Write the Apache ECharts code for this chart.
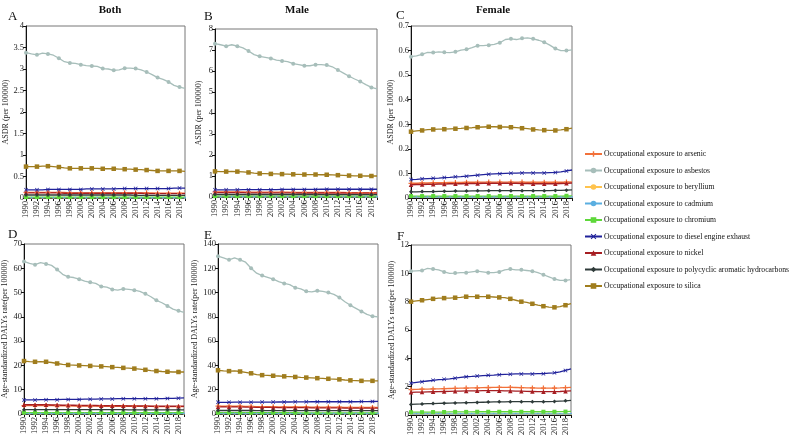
<!DOCTYPE html>
<html><head><meta charset="utf-8">
<script src="https://cdn.jsdelivr.net/npm/echarts@6/dist/echarts.min.js"></script>
<style>html,body{margin:0;padding:0;background:#fff}#c{width:790px;height:438px}</style>
</head><body><div id="c"></div>
<script>
var years = ['1990','1991','1992','1993','1994','1995','1996','1997','1998','1999','2000','2001','2002','2003','2004','2005','2006','2007','2008','2009','2010','2011','2012','2013','2014','2015','2016','2017','2018','2019'];
var seriesNames = ['Occupational exposure to arsenic','Occupational exposure to asbestos','Occupational exposure to beryllium','Occupational exposure to cadmium','Occupational exposure to chromium','Occupational exposure to diesel engine exhaust','Occupational exposure to nickel','Occupational exposure to polycyclic aromatic hydrocarbons','Occupational exposure to silica'];
var panelTitles = ['Both','Male','Female'];
var panelLetters = ['A','B','C','D','E','F'];
var yNames = ['ASDR (per 100000)','ASDR (per 100000)','ASDR (per 100000)','Age-standardized DALYs rate(per 100000)','Age-standardized DALYs rate(per 100000)','Age-standardized DALYs rate(per 100000)'];
var yMax = [4,8,0.7,70,140,12];
var yStep = [0.5,1,0.1,10,20,2];

// Panel A: ASDR, both sexes
var A_arsenic   = [0.13,0.13,0.13,0.13,0.13,0.13,0.13,0.13,0.12,0.12,0.12,0.12,0.12,0.12,0.12,0.12,0.12,0.12,0.12,0.12,0.12,0.12,0.12,0.12,0.11,0.11,0.11,0.11,0.11,0.11];
var A_asbestos  = [3.38,3.35,3.33,3.37,3.35,3.32,3.25,3.17,3.14,3.13,3.10,3.08,3.07,3.06,3.01,3.00,2.97,2.98,3.02,3.02,3.01,2.98,2.93,2.87,2.80,2.76,2.70,2.62,2.58,2.55];
var A_beryllium = [0.004,0.004,0.004,0.004,0.004,0.004,0.004,0.004,0.004,0.004,0.004,0.004,0.004,0.004,0.004,0.004,0.004,0.004,0.004,0.004,0.004,0.004,0.004,0.004,0.004,0.004,0.004,0.004,0.004,0.004];
var A_cadmium   = [0.007,0.007,0.007,0.007,0.007,0.007,0.007,0.007,0.007,0.007,0.007,0.007,0.007,0.007,0.007,0.007,0.007,0.007,0.007,0.006,0.006,0.006,0.006,0.006,0.006,0.006,0.006,0.006,0.006,0.006];
var A_chromium  = [0.02,0.02,0.02,0.02,0.02,0.02,0.02,0.02,0.02,0.02,0.02,0.02,0.02,0.02,0.02,0.02,0.02,0.02,0.02,0.02,0.02,0.02,0.02,0.02,0.02,0.02,0.02,0.02,0.02,0.02];
var A_diesel    = [0.19,0.19,0.19,0.19,0.20,0.20,0.20,0.20,0.20,0.20,0.20,0.21,0.21,0.21,0.21,0.21,0.21,0.22,0.22,0.22,0.22,0.22,0.22,0.22,0.22,0.22,0.22,0.23,0.23,0.23];
var A_nickel    = [0.12,0.12,0.12,0.12,0.12,0.12,0.12,0.11,0.11,0.11,0.11,0.11,0.11,0.11,0.11,0.11,0.11,0.11,0.11,0.11,0.11,0.11,0.10,0.10,0.10,0.10,0.10,0.10,0.10,0.10];
var A_pah       = [0.07,0.07,0.07,0.07,0.07,0.07,0.07,0.07,0.07,0.07,0.07,0.07,0.07,0.07,0.07,0.07,0.07,0.07,0.07,0.07,0.06,0.06,0.06,0.06,0.06,0.06,0.06,0.06,0.06,0.06];
var A_silica    = [0.73,0.73,0.73,0.74,0.74,0.73,0.72,0.70,0.69,0.69,0.69,0.69,0.69,0.69,0.68,0.68,0.68,0.67,0.67,0.67,0.66,0.66,0.65,0.64,0.63,0.63,0.63,0.63,0.63,0.62];

// Panel B: ASDR, male
var B_arsenic   = [0.24,0.24,0.24,0.24,0.24,0.24,0.23,0.23,0.23,0.23,0.23,0.23,0.23,0.23,0.22,0.22,0.22,0.22,0.22,0.22,0.22,0.22,0.22,0.22,0.21,0.21,0.21,0.21,0.21,0.21];
var B_asbestos  = [7.30,7.25,7.18,7.25,7.18,7.10,6.95,6.78,6.70,6.65,6.60,6.52,6.48,6.45,6.35,6.30,6.25,6.25,6.30,6.30,6.28,6.20,6.05,5.90,5.75,5.62,5.50,5.35,5.22,5.15];
var B_beryllium = [0.007,0.007,0.007,0.007,0.007,0.007,0.007,0.007,0.007,0.007,0.007,0.007,0.007,0.007,0.007,0.007,0.007,0.007,0.007,0.007,0.007,0.007,0.007,0.007,0.007,0.007,0.007,0.007,0.007,0.007];
var B_cadmium   = [0.012,0.012,0.012,0.012,0.012,0.012,0.012,0.012,0.012,0.012,0.011,0.011,0.011,0.011,0.011,0.011,0.011,0.011,0.011,0.011,0.011,0.011,0.011,0.011,0.011,0.011,0.011,0.011,0.011,0.011];
var B_chromium  = [0.04,0.04,0.04,0.04,0.04,0.04,0.04,0.04,0.04,0.04,0.04,0.04,0.04,0.04,0.04,0.04,0.04,0.04,0.04,0.04,0.04,0.04,0.04,0.04,0.04,0.04,0.04,0.04,0.04,0.04];
var B_diesel    = [0.34,0.34,0.34,0.34,0.34,0.35,0.35,0.35,0.35,0.35,0.35,0.35,0.36,0.36,0.36,0.36,0.36,0.36,0.36,0.37,0.37,0.37,0.37,0.37,0.37,0.37,0.37,0.37,0.37,0.37];
var B_nickel    = [0.21,0.21,0.21,0.21,0.21,0.21,0.20,0.20,0.20,0.20,0.20,0.20,0.20,0.20,0.20,0.19,0.19,0.19,0.19,0.19,0.19,0.19,0.19,0.19,0.18,0.18,0.18,0.18,0.18,0.18];
var B_pah       = [0.12,0.12,0.12,0.12,0.12,0.12,0.12,0.12,0.12,0.12,0.12,0.12,0.12,0.12,0.12,0.12,0.12,0.12,0.12,0.11,0.11,0.11,0.11,0.11,0.11,0.11,0.11,0.11,0.11,0.11];
var B_silica    = [1.22,1.21,1.21,1.22,1.21,1.20,1.17,1.14,1.12,1.11,1.10,1.10,1.09,1.09,1.08,1.08,1.07,1.07,1.07,1.06,1.06,1.05,1.04,1.03,1.02,1.01,1.01,1.00,1.00,1.00];

// Panel C: ASDR, female
var C_arsenic   = [0.060,0.060,0.061,0.061,0.062,0.062,0.062,0.063,0.063,0.063,0.064,0.064,0.064,0.065,0.065,0.065,0.065,0.065,0.065,0.065,0.065,0.064,0.064,0.064,0.064,0.064,0.064,0.064,0.065,0.066];
var C_asbestos  = [0.575,0.578,0.585,0.593,0.592,0.595,0.593,0.592,0.595,0.602,0.605,0.612,0.620,0.620,0.622,0.625,0.632,0.645,0.648,0.645,0.650,0.652,0.648,0.642,0.634,0.622,0.608,0.600,0.600,0.603];
var C_beryllium = [0.003,0.003,0.003,0.003,0.003,0.003,0.003,0.003,0.003,0.003,0.003,0.003,0.003,0.003,0.003,0.003,0.003,0.003,0.003,0.003,0.003,0.003,0.003,0.003,0.003,0.003,0.003,0.003,0.003,0.003];
var C_cadmium   = [0.004,0.004,0.004,0.004,0.004,0.004,0.004,0.004,0.004,0.004,0.004,0.004,0.004,0.004,0.004,0.004,0.004,0.004,0.004,0.004,0.004,0.004,0.004,0.004,0.004,0.004,0.004,0.004,0.004,0.004];
var C_chromium  = [0.008,0.008,0.008,0.008,0.008,0.008,0.008,0.008,0.008,0.008,0.008,0.008,0.008,0.008,0.008,0.008,0.008,0.008,0.008,0.008,0.008,0.008,0.008,0.008,0.008,0.008,0.008,0.008,0.009,0.009];
var C_diesel    = [0.075,0.076,0.078,0.079,0.080,0.081,0.083,0.084,0.086,0.087,0.089,0.091,0.093,0.095,0.097,0.098,0.099,0.100,0.101,0.101,0.102,0.102,0.102,0.102,0.102,0.103,0.104,0.106,0.110,0.114];
var C_nickel    = [0.054,0.055,0.055,0.056,0.056,0.057,0.057,0.058,0.058,0.058,0.059,0.059,0.059,0.060,0.060,0.060,0.060,0.060,0.060,0.060,0.059,0.059,0.058,0.058,0.058,0.058,0.058,0.059,0.060,0.061];
var C_pah       = [0.025,0.025,0.026,0.026,0.026,0.027,0.027,0.027,0.028,0.028,0.028,0.029,0.029,0.029,0.030,0.030,0.030,0.030,0.030,0.030,0.030,0.030,0.030,0.030,0.030,0.030,0.031,0.031,0.032,0.033];
var C_silica    = [0.270,0.273,0.275,0.278,0.279,0.280,0.280,0.281,0.282,0.283,0.285,0.286,0.288,0.289,0.290,0.290,0.289,0.289,0.288,0.286,0.284,0.282,0.279,0.277,0.276,0.275,0.275,0.277,0.280,0.284];

// Panel D: DALYs, both sexes
var D_arsenic   = [3.5,3.5,3.5,3.5,3.5,3.5,3.4,3.4,3.4,3.3,3.3,3.3,3.3,3.3,3.2,3.2,3.2,3.2,3.2,3.2,3.2,3.1,3.1,3.1,3.0,3.0,3.0,3.0,3.0,3.0];
var D_asbestos  = [62.8,62.0,61.5,62.3,61.8,61.2,59.5,57.5,56.5,56.2,55.5,54.7,54.2,53.8,52.5,52.2,51.3,51.0,51.5,51.3,51.0,50.5,49.5,48.3,46.8,45.8,44.5,43.2,42.5,41.8];
var D_beryllium = [0.15,0.15,0.15,0.15,0.15,0.15,0.15,0.15,0.15,0.15,0.15,0.15,0.15,0.15,0.15,0.15,0.15,0.15,0.15,0.15,0.15,0.15,0.15,0.15,0.15,0.15,0.15,0.15,0.15,0.15];
var D_cadmium   = [0.2,0.2,0.2,0.2,0.2,0.2,0.2,0.2,0.2,0.2,0.2,0.2,0.2,0.2,0.2,0.2,0.2,0.2,0.2,0.2,0.2,0.2,0.2,0.2,0.2,0.2,0.2,0.2,0.2,0.2];
var D_chromium  = [0.6,0.6,0.6,0.6,0.6,0.6,0.6,0.6,0.6,0.6,0.6,0.6,0.6,0.6,0.6,0.6,0.6,0.6,0.6,0.6,0.6,0.6,0.6,0.6,0.6,0.6,0.6,0.6,0.6,0.6];
var D_diesel    = [5.8,5.8,5.8,5.9,5.9,5.9,5.9,6.0,6.0,6.0,6.0,6.1,6.1,6.1,6.2,6.2,6.2,6.3,6.3,6.3,6.3,6.3,6.3,6.3,6.3,6.3,6.4,6.4,6.5,6.6];
var D_nickel    = [3.8,3.8,3.8,3.8,3.8,3.7,3.7,3.6,3.6,3.6,3.5,3.5,3.5,3.5,3.4,3.4,3.4,3.4,3.4,3.3,3.3,3.3,3.3,3.2,3.2,3.2,3.2,3.2,3.2,3.2];
var D_pah       = [1.8,1.8,1.8,1.8,1.8,1.8,1.8,1.8,1.8,1.8,1.8,1.8,1.8,1.8,1.8,1.8,1.8,1.8,1.8,1.7,1.7,1.7,1.7,1.7,1.7,1.7,1.7,1.7,1.7,1.7];
var D_silica    = [21.8,21.6,21.5,21.6,21.5,21.2,20.8,20.4,20.2,20.1,20.0,19.9,19.8,19.7,19.6,19.5,19.3,19.2,19.0,18.9,18.7,18.5,18.2,17.9,17.7,17.5,17.4,17.3,17.3,17.3];

// Panel E: DALYs, male
var E_arsenic   = [6.4,6.4,6.4,6.4,6.4,6.3,6.2,6.1,6.1,6.0,6.0,5.9,5.9,5.9,5.8,5.8,5.8,5.7,5.7,5.7,5.7,5.6,5.6,5.5,5.5,5.4,5.4,5.4,5.4,5.4];
var E_asbestos  = [130.0,128.5,127.0,128.5,127.0,125.0,120.0,116.0,114.0,112.5,111.0,109.0,107.5,106.5,104.0,103.0,101.0,100.5,101.5,101.0,100.0,98.5,96.0,92.5,89.5,87.0,84.5,82.0,80.5,80.0];
var E_beryllium = [0.25,0.25,0.25,0.25,0.25,0.25,0.25,0.25,0.25,0.25,0.25,0.25,0.25,0.25,0.25,0.25,0.25,0.25,0.25,0.25,0.25,0.25,0.25,0.25,0.25,0.25,0.25,0.25,0.25,0.25];
var E_cadmium   = [0.35,0.35,0.35,0.35,0.35,0.35,0.35,0.35,0.35,0.35,0.35,0.35,0.35,0.35,0.35,0.35,0.35,0.35,0.35,0.35,0.35,0.35,0.35,0.35,0.35,0.35,0.35,0.35,0.35,0.35];
var E_chromium  = [1.1,1.1,1.1,1.1,1.1,1.1,1.1,1.1,1.1,1.1,1.1,1.1,1.1,1.1,1.1,1.0,1.0,1.0,1.0,1.0,1.0,1.0,1.0,1.0,1.0,1.0,1.0,1.0,1.0,1.0];
var E_diesel    = [9.6,9.6,9.6,9.7,9.7,9.7,9.7,9.8,9.8,9.8,9.8,9.9,9.9,9.9,10.0,10.0,10.0,10.1,10.1,10.1,10.1,10.1,10.1,10.1,10.1,10.1,10.2,10.2,10.3,10.4];
var E_nickel    = [5.8,5.8,5.8,5.8,5.8,5.7,5.6,5.5,5.5,5.4,5.4,5.3,5.3,5.3,5.2,5.2,5.2,5.1,5.1,5.1,5.1,5.0,5.0,4.9,4.9,4.8,4.8,4.8,4.8,4.8];
var E_pah       = [2.9,2.9,2.9,2.9,2.9,2.9,2.9,2.8,2.8,2.8,2.8,2.8,2.8,2.8,2.8,2.8,2.8,2.8,2.8,2.8,2.7,2.7,2.7,2.7,2.7,2.7,2.7,2.7,2.7,2.7];
var E_silica    = [36.0,35.5,35.3,35.5,35.0,34.3,33.5,32.5,32.0,31.8,31.5,31.3,31.0,30.8,30.5,30.2,30.0,29.8,29.5,29.3,29.0,28.8,28.5,28.0,27.7,27.5,27.3,27.3,27.3,27.3];

// Panel F: DALYs, female
var F_arsenic   = [1.80,1.81,1.82,1.83,1.84,1.85,1.86,1.87,1.88,1.89,1.90,1.91,1.92,1.93,1.94,1.95,1.95,1.95,1.95,1.94,1.93,1.92,1.91,1.90,1.90,1.90,1.90,1.91,1.93,1.95];
var F_asbestos  = [10.15,10.18,10.20,10.35,10.30,10.25,10.10,10.00,10.02,10.05,10.05,10.10,10.15,10.10,10.05,10.05,10.10,10.25,10.30,10.25,10.25,10.20,10.15,10.05,9.90,9.75,9.60,9.50,9.50,9.55];
var F_beryllium = [0.06,0.06,0.06,0.06,0.06,0.06,0.06,0.06,0.06,0.06,0.06,0.06,0.06,0.06,0.06,0.06,0.06,0.06,0.06,0.06,0.06,0.06,0.06,0.06,0.06,0.06,0.06,0.06,0.06,0.06];
var F_cadmium   = [0.08,0.08,0.08,0.08,0.08,0.08,0.08,0.08,0.08,0.08,0.08,0.08,0.08,0.08,0.08,0.08,0.08,0.08,0.08,0.08,0.08,0.08,0.08,0.08,0.08,0.08,0.08,0.08,0.08,0.08];
var F_chromium  = [0.20,0.20,0.20,0.21,0.21,0.21,0.21,0.22,0.22,0.22,0.22,0.22,0.23,0.23,0.23,0.23,0.23,0.23,0.23,0.23,0.23,0.23,0.23,0.23,0.23,0.23,0.23,0.24,0.24,0.25];
var F_diesel    = [2.25,2.30,2.35,2.40,2.45,2.50,2.52,2.55,2.60,2.65,2.70,2.72,2.75,2.78,2.80,2.82,2.85,2.87,2.88,2.90,2.90,2.90,2.90,2.92,2.92,2.95,2.98,3.05,3.15,3.25];
var F_nickel    = [1.60,1.61,1.62,1.63,1.64,1.65,1.66,1.67,1.68,1.69,1.70,1.70,1.71,1.72,1.72,1.72,1.72,1.71,1.70,1.69,1.68,1.67,1.66,1.65,1.65,1.65,1.65,1.66,1.68,1.70];
var F_pah       = [0.75,0.77,0.78,0.80,0.81,0.82,0.83,0.84,0.85,0.86,0.87,0.88,0.89,0.90,0.91,0.92,0.93,0.93,0.94,0.94,0.94,0.94,0.94,0.94,0.94,0.95,0.96,0.98,1.00,1.03];
var F_silica    = [8.00,8.05,8.10,8.15,8.20,8.25,8.25,8.25,8.28,8.30,8.35,8.35,8.35,8.35,8.35,8.33,8.30,8.28,8.20,8.10,8.00,7.95,7.85,7.75,7.68,7.62,7.60,7.65,7.75,7.87];

var panelData = [
  [A_arsenic,A_asbestos,A_beryllium,A_cadmium,A_chromium,A_diesel,A_nickel,A_pah,A_silica],
  [B_arsenic,B_asbestos,B_beryllium,B_cadmium,B_chromium,B_diesel,B_nickel,B_pah,B_silica],
  [C_arsenic,C_asbestos,C_beryllium,C_cadmium,C_chromium,C_diesel,C_nickel,C_pah,C_silica],
  [D_arsenic,D_asbestos,D_beryllium,D_cadmium,D_chromium,D_diesel,D_nickel,D_pah,D_silica],
  [E_arsenic,E_asbestos,E_beryllium,E_cadmium,E_chromium,E_diesel,E_nickel,E_pah,E_silica],
  [F_arsenic,F_asbestos,F_beryllium,F_cadmium,F_chromium,F_diesel,F_nickel,F_pah,F_silica]
];

var colors = ['#F2713A','#A7BEBA','#FFC34D','#5AAEE0','#5ED83A','#20229A','#A61E22','#2F3B3A','#A07D1E'];
var PLUS = 'path://M3,0h2v3h3v2h-3v3h-2v-3h-3v-2h3z';
var CROSS = 'path://M1,0L4,3L7,0L8,1L5,4L8,7L7,8L4,5L1,8L0,7L3,4L0,1z';
var symbols = [PLUS,'circle','circle','circle','rect',CROSS,'triangle','diamond','rect'];
var symSizes = [5,4,2,2,4,4,4.5,4,4.5];

var grids = [
  {left:26, top:26, width:159, height:172},
  {left:215, top:29, width:162, height:168},
  {left:411, top:26, width:161, height:172},
  {left:24, top:244, width:160, height:170},
  {left:218, top:244, width:160, height:170},
  {left:411, top:245, width:160, height:170}
];
var nameGaps = [16,12,16,15,16,15];
var FONT = 'Liberation Serif';

var option = {
  animation:false,
  backgroundColor:'#fff',
  textStyle:{fontFamily:FONT},
  title:[],
  grid:[], xAxis:[], yAxis:[], series:[],
  legend:{
    orient:'vertical', left:579, top:145, itemWidth:17, itemHeight:7, itemGap:8.5,
    textStyle:{fontFamily:FONT, fontSize:7.7, color:'#111', padding:[0,0,0,-3]},
    data:seriesNames
  }
};
var titleX = [105,292,488];
for (var t=0;t<3;t++){
  option.title.push({text:panelTitles[t], left:titleX[t], top:0, textAlign:'center',
    textStyle:{fontFamily:FONT, fontSize:11, fontWeight:'bold', color:'#111'}});
}
var letterPos = [[3,5],[199,5],[391,4],[3,223],[199,224],[392,225]];
for (var l=0;l<6;l++){
  option.title.push({text:panelLetters[l], left:letterPos[l][0], top:letterPos[l][1],
    textStyle:{fontFamily:FONT, fontSize:13, fontWeight:'normal', color:'#111'}});
}
for (var p=0;p<6;p++){
  var g = grids[p];
  option.grid.push({left:g.left, top:g.top, width:g.width, height:g.height, show:true, borderColor:'#777', borderWidth:1, backgroundColor:'transparent', containLabel:false});
  option.xAxis.push({type:'category', gridIndex:p, data:years, boundaryGap:false,
    axisLine:{lineStyle:{color:'#111', width:1}},
    axisTick:{show:true, interval:0, length:3, lineStyle:{color:'#111'}},
    axisLabel:{interval:1, rotate:90, fontSize:8.5, color:'#222', fontFamily:FONT, margin:3, hideOverlap:false},
    splitLine:{show:false}});
  option.yAxis.push({type:'value', gridIndex:p, min:0, max:yMax[p], interval:yStep[p],
    name:yNames[p], nameLocation:'middle', nameGap:nameGaps[p],
    nameTextStyle:{fontFamily:FONT, fontSize:8, color:'#222'},
    axisLine:{show:true, lineStyle:{color:'#111', width:1}},
    axisTick:{show:true, length:3, lineStyle:{color:'#111'}},
    axisLabel:{fontSize:8.5, color:'#222', fontFamily:FONT, margin:2},
    splitLine:{show:false}});
  for (var s=0;s<9;s++){
    option.series.push({type:'line', name:seriesNames[s], xAxisIndex:p, yAxisIndex:p,
      data:panelData[p][s], color:colors[s], symbol:symbols[s], symbolSize:symSizes[s],
      showSymbol:true, lineStyle:{width:1.3, color:colors[s]}, itemStyle:{color:colors[s]}, z: (s===1||s===8)?3:4});
  }
}
var chart = echarts.init(document.getElementById('c'));
chart.setOption(option);
</script></body></html>
